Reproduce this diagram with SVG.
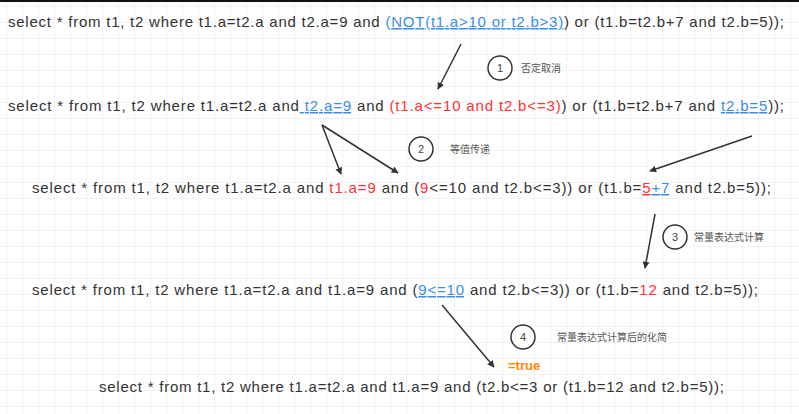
<svg xmlns="http://www.w3.org/2000/svg" width="799" height="414" viewBox="0 0 799 414">
<style>
.sql{font-family:"Liberation Sans","Open Sans",sans-serif;font-size:15px;fill:#333}
.b{fill:#3a8ee6}
.r{fill:#f33}
.u{text-decoration:underline}
.lbl{font-family:"Noto Sans CJK SC","Liberation Sans",sans-serif;font-size:10px;fill:#555}
.num{font-family:"Liberation Sans",sans-serif;font-size:11px;fill:#444;text-anchor:middle}
.circ{fill:#fff;stroke:#333;stroke-width:1.5}
.conn{stroke:#333;stroke-width:1.5;fill:none;marker-end:url(#ah)}
</style>
<defs>
<pattern id="grid" width="16" height="16" patternUnits="userSpaceOnUse" x="6" y="6">
<path d="M16 0H0V16" fill="none" stroke="#e8e8e8" stroke-width="1"/>
</pattern>
<marker id="ah" viewBox="0 0 10 10" refX="9" refY="5" markerWidth="7" markerHeight="7" orient="auto" markerUnits="userSpaceOnUse">
<path d="M0 0L10 5L0 10z" fill="#333"/>
</marker>
</defs>
<rect width="799" height="414" fill="#fff"/>
<rect width="799" height="414" fill="url(#grid)"/>
<rect width="799" height="2" fill="#111"/>

<g id="line1"><text class="sql" x="8" y="27" textLength="776" lengthAdjust="spacing">select * from t1, t2 where t1.a=t2.a and t2.a=9 and <tspan class="b">(</tspan><tspan class="b u">NOT(t1.a&gt;10 or t2.b&gt;3)</tspan>) or (t1.b=t2.b+7 and t2.b=5));</text></g>
<g id="line2"><text class="sql" x="8" y="111" textLength="776" lengthAdjust="spacing">select * from t1, t2 where t1.a=t2.a and<tspan class="b u"> t2.a=9</tspan> and <tspan class="r">(t1.a&lt;=10 and t2.b&lt;=3)</tspan>) or (t1.b=t2.b+7 and <tspan class="b u">t2.b=5</tspan>));</text></g>
<g id="line3"><text class="sql" x="32" y="193" textLength="739" lengthAdjust="spacing">select * from t1, t2 where t1.a=t2.a and <tspan class="r">t1.a=9</tspan> and (<tspan class="r">9</tspan>&lt;=10 and t2.b&lt;=3)) or (t1.b=<tspan class="r u">5</tspan><tspan class="b u">+7</tspan> and t2.b=5));</text></g>
<g id="line4"><text class="sql" x="32" y="295" textLength="726" lengthAdjust="spacing">select * from t1, t2 where t1.a=t2.a and t1.a=9 and (<tspan class="b u">9&lt;=10</tspan> and t2.b&lt;=3)) or (t1.b=<tspan class="r">12</tspan> and t2.b=5));</text></g>
<g id="line5"><text class="sql" x="99" y="392" textLength="625" lengthAdjust="spacing">select * from t1, t2 where t1.a=t2.a and t1.a=9 and (t2.b&lt;=3 or (t1.b=12 and t2.b=5));</text></g>

<g id="step1"><circle class="circ" cx="500" cy="68" r="12"/><text class="num" x="500" y="72">1</text><text class="lbl" x="521" y="72">否定取消</text></g>
<g id="step2"><circle class="circ" cx="421" cy="149" r="12"/><text class="num" x="421" y="153">2</text><text class="lbl" x="450" y="153">等值传递</text></g>
<g id="step3"><circle class="circ" cx="675" cy="237" r="12"/><text class="num" x="675" y="241">3</text><text class="lbl" x="694" y="241">常量表达式计算</text></g>
<g id="step4"><circle class="circ" cx="523" cy="337" r="12"/><text class="num" x="523" y="341">4</text><text class="lbl" x="557" y="341">常量表达式计算后的化简</text></g>
<g id="result"><text x="508" y="370" font-family="Liberation Sans,sans-serif" font-size="13" font-weight="bold" fill="#f80">=true</text></g>

<g id="connectors">
<line class="conn" x1="461" y1="44" x2="438" y2="89"/>
<line class="conn" x1="322" y1="125" x2="341" y2="174"/>
<line class="conn" x1="322" y1="125" x2="398" y2="173"/>
<line class="conn" x1="752" y1="136" x2="650" y2="171"/>
<line class="conn" x1="655" y1="214" x2="645" y2="268"/>
<line class="conn" x1="442" y1="305" x2="494" y2="367"/>
</g>
</svg>
